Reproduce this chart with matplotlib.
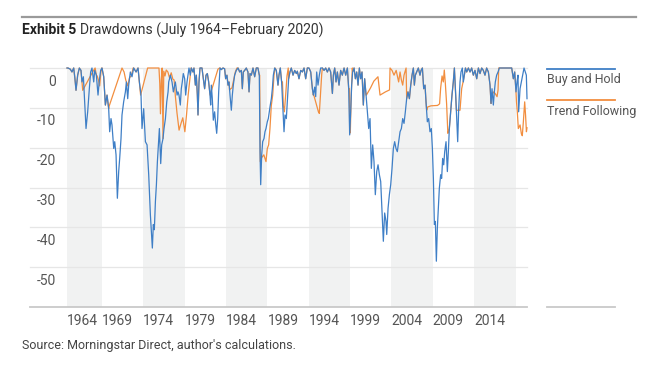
import matplotlib
matplotlib.use("Agg")
import matplotlib.pyplot as plt
from matplotlib.lines import Line2D
from matplotlib.transforms import ScaledTranslation
import numpy as np

# ---------------- data ----------------
BH_YEARS = [
    1964.50, 1964.62, 1964.90, 1965.10, 1965.31, 1965.45, 1965.59, 1965.79, 1965.99, 1966.19,
    1966.31, 1966.48, 1966.64, 1966.80, 1967.00, 1967.20, 1967.36, 1967.52, 1967.73, 1967.85,
    1968.05, 1968.25, 1968.41, 1968.57, 1968.73, 1968.94, 1969.14, 1969.34, 1969.54, 1969.66,
    1969.82, 1969.94, 1970.15, 1970.27, 1970.43, 1970.59, 1970.75, 1970.87, 1971.03, 1971.15,
    1971.35, 1971.56, 1971.68, 1971.84, 1971.96, 1972.16, 1972.36, 1972.56, 1972.85, 1973.09,
    1973.25, 1973.45, 1973.57, 1973.77, 1973.98, 1974.18, 1974.38, 1974.58, 1974.70, 1974.82,
    1974.94, 1975.06, 1975.19, 1975.31, 1975.43, 1975.55, 1975.67, 1975.83, 1975.95, 1976.11,
    1976.23, 1976.40, 1976.56, 1976.72, 1976.80, 1977.00, 1977.20, 1977.36, 1977.60, 1977.81,
    1977.92, 1978.04, 1978.20, 1978.32, 1978.44, 1978.56, 1978.73, 1978.85, 1979.01, 1979.13,
    1979.25, 1979.41, 1979.53, 1979.73, 1979.85, 1980.02, 1980.14, 1980.26, 1980.34, 1980.46,
    1980.58, 1980.82, 1980.98, 1981.14, 1981.31, 1981.47, 1981.63, 1981.79, 1981.87, 1981.95,
    1982.07, 1982.19, 1982.35, 1982.47, 1982.60, 1982.72, 1982.84, 1983.00, 1983.16, 1983.36,
    1983.56, 1983.68, 1983.84, 1983.97, 1984.09, 1984.21, 1984.37, 1984.49, 1984.61, 1984.77,
    1984.97, 1985.18, 1985.38, 1985.58, 1985.70, 1985.82, 1985.98, 1986.18, 1986.38, 1986.51,
    1986.63, 1986.79, 1986.99, 1987.19, 1987.39, 1987.59, 1987.75, 1987.84, 1987.92, 1988.04,
    1988.16, 1988.32, 1988.44, 1988.56, 1988.72, 1988.84, 1988.96, 1989.08, 1989.21, 1989.33,
    1989.45, 1989.61, 1989.81, 1990.01, 1990.13, 1990.29, 1990.45, 1990.62, 1990.74, 1990.86,
    1991.02, 1991.14, 1991.30, 1991.46, 1991.62, 1991.83, 1992.03, 1992.23, 1992.35, 1992.55,
    1992.76, 1992.96, 1993.16, 1993.36, 1993.56, 1993.76, 1993.97, 1994.17, 1994.29, 1994.45,
    1994.57, 1994.69, 1994.85, 1995.01, 1995.17, 1995.38, 1995.58, 1995.78, 1995.98, 1996.18,
    1996.38, 1996.59, 1996.71, 1996.87, 1997.03, 1997.19, 1997.39, 1997.59, 1997.79, 1998.00,
    1998.20, 1998.40, 1998.56, 1998.68, 1998.80, 1998.92, 1999.04, 1999.21, 1999.37, 1999.53,
    1999.69, 1999.85, 2000.01, 2000.17, 2000.33, 2000.49, 2000.66, 2000.82, 2000.98, 2001.14,
    2001.30, 2001.46, 2001.62, 2001.78, 2001.95, 2002.11, 2002.27, 2002.43, 2002.59, 2002.75,
    2002.91, 2003.07, 2003.16, 2003.32, 2003.48, 2003.64, 2003.80, 2003.96, 2004.12, 2004.28,
    2004.44, 2004.61, 2004.77, 2004.93, 2005.09, 2005.25, 2005.41, 2005.57, 2005.73, 2005.90,
    2006.06, 2006.22, 2006.38, 2006.50, 2006.62, 2006.78, 2006.98, 2007.18, 2007.31, 2007.47,
    2007.63, 2007.79, 2007.91, 2008.07, 2008.23, 2008.39, 2008.55, 2008.68, 2008.80, 2008.92,
    2009.04, 2009.16, 2009.28, 2009.40, 2009.52, 2009.68, 2009.80, 2009.92, 2010.05, 2010.17,
    2010.33, 2010.49, 2010.61, 2010.73, 2010.89, 2011.05, 2011.21, 2011.34, 2011.50, 2011.62,
    2011.74, 2011.86, 2012.02, 2012.14, 2012.30, 2012.42, 2012.54, 2012.67, 2012.83, 2013.03,
    2013.23, 2013.43, 2013.63, 2013.83, 2014.04, 2014.24, 2014.44, 2014.64, 2014.84, 2015.04,
    2015.24, 2015.45, 2015.65, 2015.77, 2015.89, 2016.05, 2016.17, 2016.29, 2016.45, 2016.62,
    2016.78, 2017.06, 2017.50, 2018.07, 2018.27, 2018.47, 2018.63, 2018.79, 2018.91, 2019.03,
    2019.11, 2019.28, 2019.44, 2019.60, 2019.76, 2019.92, 2020.04, 2020.12,
]
BH_DRAWDOWN = [
    0, 0, -0.3, -1.0, 0, -2.5, -5.6, -1.8, 0, -0.6,
    -3.5, -2.2, -8.5, -15.2, -11.0, -5.2, -1.0, 0, -3.5, -0.6,
    -1.8, -6.8, -3.1, -0.6, 0, -2.2, -9.3, -6.8, -10.2, -16.0,
    -12.7, -14.3, -20.2, -18.5, -21.8, -32.7, -26.0, -22.7, -17.7, -11.8,
    -8.5, -6.0, -3.5, -7.7, -4.3, -1.0, -2.2, 0, -1.0, 0,
    -3.5, -6.8, -15.2, -10.2, -18.5, -19.3, -26.8, -36.8, -41.0, -45.2,
    -39.3, -40.6, -33.5, -29.3, -23.5, -19.3, -15.2, -24.0, -19.3, -17.7,
    -15.2, -12.7, -8.5, -6.0, -3.5, -1.8, -3.5, -6.0, -3.5, -6.8,
    -6.0, -6.8, -9.3, -5.2, -3.5, -1.4, -2.7, -6.8, -3.5, -1.8,
    0, -1.8, 0, -1.0, 0, -4.3, -1.8, -6.8, -11.8, -3.5,
    0, 0, -2.7, -5.2, -1.8, -1.4, -3.5, -6.8, -9.3, -4.3,
    -7.7, -13.1, -11.0, -13.9, -16.4, -12.7, -6.0, 0, -0.4, 0,
    -0.2, -2.7, -1.8, -4.3, -3.5, -6.8, -10.6, -6.8, -4.3, -1.8,
    -0.6, 0, -1.0, -0.6, -5.2, -1.0, -0.6, 0, -1.0, -6.0,
    -1.4, -1.8, 0, -2.2, 0, 0, -1.8, -21.0, -29.3, -21.8,
    -18.5, -17.7, -16.0, -15.2, -13.5, -12.7, -11.0, -9.3, -7.7, -5.2,
    -1.8, 0, -0.6, -4.3, -1.8, 0, -3.5, -11.0, -16.0, -11.8,
    -12.7, -8.5, -2.7, -1.0, 0, -1.8, -0.6, -1.4, -0.8, -2.7,
    -0.6, -1.0, 0, -2.7, 0, 0, -1.0, -5.2, -6.8, -4.8,
    -7.2, -1.0, -4.3, -1.8, 0, 0, -0.6, 0, -1.0, 0,
    -1.0, -6.4, -1.8, 0, -3.5, -1.0, -4.3, -0.6, -1.8, 0,
    -1.8, 0, -5.2, -16.8, -11.0, -4.3, -1.0, 0, -2.7, -1.0,
    -4.3, 0, -2.7, -1.0, -9.3, -2.7, -6.8, -11.0, -15.2, -12.7,
    -25.2, -19.3, -23.5, -31.8, -26.0, -24.3, -26.8, -28.5, -36.0, -43.5,
    -36.4, -38.5, -41.8, -35.2, -31.8, -29.3, -25.2, -20.2, -18.5, -20.2,
    -21.0, -18.5, -16.0, -15.2, -12.7, -13.9, -11.0, -7.7, -6.0, -7.7,
    -4.3, -1.8, 0, -4.3, -1.8, -1.0, 0, -1.8, -0.6, 0,
    -5.2, -4.3, -8.5, -13.5, -12.7, -16.0, -15.2, -20.2, -27.7, -39.3,
    -38.5, -48.5, -40.2, -35.2, -30.2, -26.8, -27.7, -22.7, -24.3, -21.0,
    -18.5, -26.0, -21.0, -15.2, -11.0, -6.8, -3.5, 0, -6.8, -12.7,
    -18.5, -10.2, -3.5, -1.0, 0, -3.5, -1.8, 0, -1.0, 0,
    -1.0, 0, -1.8, -0.6, -2.7, 0, -1.4, 0, -0.6, -1.8,
    0, -1.0, -4.3, -8.9, -5.2, -9.3, -6.0, -3.5, -1.8, -1.0,
    0, 0, 0, 0, 0, -2.7, -1.0, -6.0, -3.5, -1.8,
    -11.0, -5.2, -3.5, -1.8, 0, -1.0, -1.8, -7.7,
]

# Trend following: same path as buy-and-hold except in these episodes
TF_EPISODES = [
    (1966.40, 1967.90), (1968.15, 1968.70), (1969.56, 1972.50), (1973.25, 1976.00),
    (1976.20, 1979.50), (1981.80, 1982.95), (1984.15, 1985.05), (1987.80, 1989.65),
    (1990.55, 1991.25), (1994.30, 1995.38), (1998.64, 1999.00), (2000.70, 2005.50),
    (2007.99, 2010.65), (2011.58, 2012.70), (2015.85, 2016.70), (2018.85, 2020.12),
]
TF_YEARS = [
    1966.40, 1967.60, 1967.90,
    1968.15, 1968.30, 1968.45, 1968.60, 1968.70,
    1969.56, 1971.15, 1971.40, 1971.60, 1971.85, 1972.05, 1972.30, 1972.50,
    1973.25, 1973.40, 1974.25, 1975.62, 1975.72, 1975.80, 1975.90, 1976.00,
    1976.20, 1976.35, 1976.50, 1976.70, 1976.90, 1977.10, 1977.30, 1977.45, 1977.60,
    1977.80, 1978.05, 1978.30, 1978.50, 1978.75, 1978.95, 1979.15, 1979.35, 1979.50,
    1981.80, 1982.75, 1982.95,
    1984.15, 1984.30, 1984.45, 1984.65, 1984.85, 1985.05,
    1987.80, 1987.87, 1988.04, 1988.30, 1988.56, 1988.72, 1988.88, 1989.04, 1989.20,
    1989.37, 1989.53, 1989.65,
    1990.55, 1990.66, 1990.78, 1990.95, 1991.10, 1991.25,
    1994.30, 1994.50, 1994.70, 1994.90, 1995.01, 1995.15, 1995.30, 1995.38,
    1998.64, 1998.68, 1998.76, 1998.86, 1999.00,
    2000.70, 2001.20, 2001.60, 2002.10, 2002.35, 2003.00, 2003.50, 2003.56, 2003.80,
    2004.04, 2004.30, 2004.60, 2004.77, 2004.93, 2005.09, 2005.25, 2005.50,
    2007.99, 2008.10, 2008.50, 2009.30, 2009.55, 2009.68, 2009.85, 2010.00, 2010.12,
    2010.25, 2010.40, 2010.55, 2010.65,
    2011.58, 2012.02, 2012.22, 2012.42, 2012.54, 2012.70,
    2015.85, 2015.95, 2016.10, 2016.30, 2016.50, 2016.62, 2016.70,
    2018.85, 2018.95, 2019.07, 2019.28, 2019.44, 2019.55, 2019.68, 2019.84, 2019.95,
    2020.05, 2020.12,
]
TF_DRAWDOWN = [
    -5.6, -1.0, 0,
    -2.0, -3.0, -4.5, -1.0, 0,
    -9.8, 0, -1.0, -3.0, -4.5, -2.5, -1.8, 0,
    -3.5, -6.8, 0, 0, -4.0, -11.5, -3.0, 0,
    -0.8, -2.0, -0.5, -1.0, -2.5, -1.2, -2.8, -3.0, -7.0,
    -11.3, -15.6, -13.8, -12.5, -16.0, -11.8, -6.8, -3.0, 0,
    -6.8, -0.3, 0,
    -5.5, -5.2, -5.0, -3.0, -1.0, 0,
    -1.8, -23.5, -22.5, -21.8, -23.5, -20.2, -19.3, -15.2, -9.5,
    -6.8, -1.8, 0,
    -3.5, -9.5, -11.0, -6.5, -2.0, 0,
    -6.5, -8.0, -9.5, -11.0, -11.4, -6.8, -1.5, 0,
    -5.2, -16.4, -16.0, -7.0, 0,
    -6.8, -5.0, -3.3, -2.2, -6.8, -6.0, -5.5, 0, -0.6,
    -1.8, -0.6, -3.5, -1.0, -3.0, -4.3, -1.8, 0,
    -10.6, -9.8, -9.5, -9.4, -9.0, -5.0, -2.0, -3.5, -0.5,
    -4.0, -9.0, -16.4, -15.8,
    -10.6, -10.6, -5.2, -3.2, -1.8, 0,
    -7.6, -6.5, -6.0, -6.5, -7.2, -5.5, 0,
    -8.5, -11.0, -15.2, -14.3, -16.5, -17.0, -13.5, -8.5, -12.0,
    -16.0, -15.0,
]

X_LABELS = ["1964", "1969", "1974", "1979", "1984", "1989", "1994", "1999", "2004", "2009", "2014"]
BAND_EDGES = [1964.50, 1968.73, 1973.73, 1978.73, 1983.73, 1988.73, 1993.73,
              1998.73, 2003.73, 2008.73, 2013.73, 2018.73, 2020.12]
Y_TICKS = [0, -10, -20, -30, -40, -50]
SERIES_NAMES = ["Buy and Hold", "Trend Following"]

# ---------------- build trend-following path ----------------
bh_y = np.array(BH_YEARS)
bh_v = np.array(BH_DRAWDOWN, dtype=float)
mask = np.ones_like(bh_y, dtype=bool)
for s, e in TF_EPISODES:
    mask &= ~((bh_y >= s) & (bh_y <= e))
tf_y = np.concatenate([bh_y[mask], np.array(TF_YEARS)])
tf_v = np.concatenate([bh_v[mask], np.array(TF_DRAWDOWN, dtype=float)])
order = np.argsort(tf_y, kind="stable")
tf_y, tf_v = tf_y[order], tf_v[order]

# ---------------- figure ----------------
W, H = 658, 371
BLUE = "#3f7fc6"
ORANGE = "#f28e3f"
TXT = "#555555"
plt.rcParams["font.family"] = ["Roboto", "DejaVu Sans"]

fig = plt.figure(figsize=(W / 100, H / 100), dpi=100)
L, R, T, B = 67, 527, 68, 307
ax = fig.add_axes([L / W, 1 - B / H, (R - L) / W, (B - T) / H])
ax.set_xlim(BAND_EDGES[0], BAND_EDGES[-1])
ax.set_ylim(-60, 0)

for i in range(0, len(BAND_EDGES) - 1, 2):
    ax.axvspan(BAND_EDGES[i], BAND_EDGES[i + 1], color="#f1f2f2", lw=0, zorder=0)

ext = -(L - 30) / (R - L)
for v in Y_TICKS:
    ax.axhline(v, xmin=ext, xmax=1, color="#e6e6e6", lw=0.9, zorder=1, clip_on=False)
ax.axhline(-60, xmin=ext, xmax=1, color="#c9c9c9", lw=1.3, zorder=1, clip_on=False)

ax.plot(tf_y, tf_v, color=ORANGE, lw=0.9, zorder=2, clip_on=False)
ax.plot(bh_y, bh_v, color=BLUE, lw=0.9, zorder=3, clip_on=False)

for sp in ax.spines.values():
    sp.set_visible(False)

ax.set_xticks(BAND_EDGES[:-2])
ax.set_xticklabels(X_LABELS, ha="left", fontsize=10, color=TXT)
ax.tick_params(axis="x", length=0, pad=5)
ax.set_yticks(Y_TICKS)
ax.set_yticklabels([str(v) for v in Y_TICKS], fontsize=10, color=TXT)
ax.tick_params(axis="y", length=0, pad=8)
off = ScaledTranslation(0, -12 / 100, fig.dpi_scale_trans)
for lab in ax.get_yticklabels():
    lab.set_transform(lab.get_transform() + off)

# legend
def fy(p):
    return 1 - p / H

fig.add_artist(Line2D([547 / W, 615 / W], [fy(69)] * 2, color=BLUE, lw=1.3))
fig.text(547 / W, fy(80), SERIES_NAMES[0], fontsize=9, color=TXT, va="center")
fig.add_artist(Line2D([547 / W, 615 / W], [fy(100)] * 2, color=ORANGE, lw=1.3))
fig.text(547 / W, fy(111), SERIES_NAMES[1], fontsize=9, color=TXT, va="center")
fig.add_artist(Line2D([547 / W, 615 / W], [fy(307)] * 2, color="#c9c9c9", lw=1.3))

# title and rule
fig.add_artist(Line2D([22 / W, 636 / W], [fy(17)] * 2, color="#9a9a9a", lw=1.6))
t1 = fig.text(22 / W, fy(30), "Exhibit 5", fontsize=10, weight="bold", color="#222222", va="center")
fig.canvas.draw()
bb = t1.get_window_extent()
fig.text(bb.x1 / W + 4 / W, fy(30), "Drawdowns (July 1964\u2013February 2020)", fontsize=10,
         color="#333333", va="center")

fig.text(22 / W, fy(345), "Source: Morningstar Direct, author's calculations.", fontsize=9,
         color="#444444", va="center")

fig.savefig("out.png", dpi=100)
